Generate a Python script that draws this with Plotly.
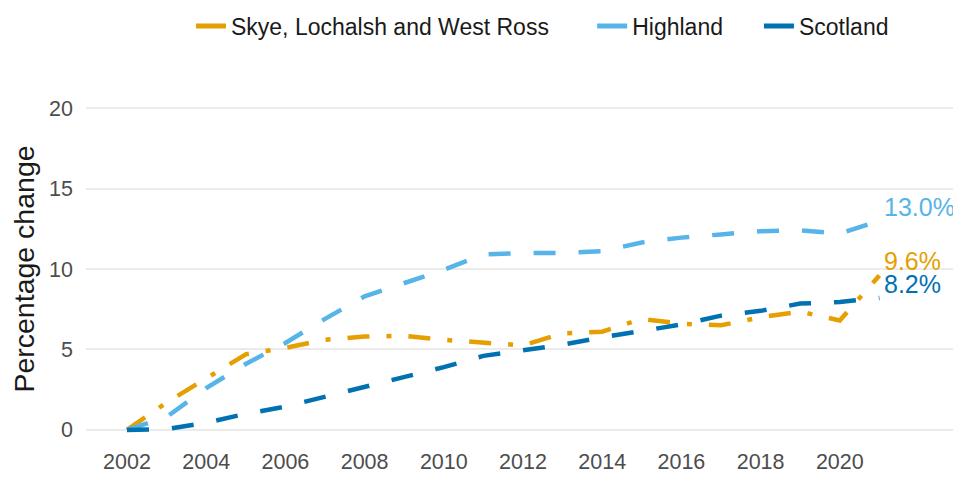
import plotly.graph_objects as go

years = list(range(2002, 2022))
skye = [0, 1.7, 3.2, 4.7, 5.1, 5.6, 5.8, 5.85, 5.6, 5.4, 5.25, 6.0, 6.1, 6.9, 6.6, 6.5, 7.0, 7.35, 6.8, 9.6]
highland = [0, 0.8, 2.6, 4.1, 5.4, 6.9, 8.3, 9.1, 9.95, 10.9, 11.0, 11.0, 11.1, 11.65, 11.95, 12.15, 12.35, 12.4, 12.2, 13.0]
scotland = [0, 0.05, 0.45, 1.0, 1.45, 2.05, 2.7, 3.3, 3.9, 4.6, 4.95, 5.3, 5.75, 6.15, 6.55, 7.1, 7.4, 7.85, 7.95, 8.2]
end_labels = ["9.6%", "13.0%", "8.2%"]

series = [
    ("Skye, Lochalsh and West Ross", skye, "#E69F00", "22px,17px,5px,17px"),
    ("Highland", highland, "#56B4E9", "22px,23px"),
    ("Scotland", scotland, "#0072B2", "22px,23px"),
]
# one legend per series so the entries can be spaced like the original
legend_ids = ["legend", "legend2", "legend3"]
legend_x = [0.192, 0.613, 0.788]

fig = go.Figure()
for name, vals, col, dash in series:
    fig.add_trace(go.Scatter(x=years, y=vals, mode="lines", showlegend=False,
                             line=dict(color=col, width=4.5, dash=dash)))
# solid keys for the legend
for (name, vals, col, dash), lid in zip(series, legend_ids):
    fig.add_trace(go.Scatter(x=[None], y=[None], mode="lines", name=name, legend=lid,
                             line=dict(color=col, width=5)))

for (name, vals, col, dash), lab in zip(series, end_labels):
    fig.add_annotation(x=years[-1], y=vals[-1], text=lab, showarrow=False,
                       xanchor="left", yanchor="middle", xshift=3, yshift=14,
                       font=dict(size=25, color=col))

leg_style = dict(orientation="h", xref="container", xanchor="left",
                 yref="container", y=0.962, yanchor="middle",
                 font=dict(size=23, color="#1a1a1a"), itemwidth=30)

# page body has an 8px margin, so the figure is drawn 8px smaller
fig.update_layout(
    width=953, height=473,
    margin=dict(l=78, r=0, t=84, b=35),
    plot_bgcolor="white", paper_bgcolor="white",
    font=dict(family="Liberation Sans, Arial, sans-serif", color="#4d4d4d"),
    legend=dict(leg_style, x=legend_x[0]),
    legend2=dict(leg_style, x=legend_x[1]),
    legend3=dict(leg_style, x=legend_x[2]),
    xaxis=dict(range=[2000.965, 2023.06], tickvals=list(range(2002, 2021, 2)),
               showgrid=False, zeroline=False, showline=False, ticks="",
               tickfont=dict(size=21.5, color="#4d4d4d")),
    yaxis=dict(range=[-1, 21], tickvals=[0, 5, 10, 15, 20], showgrid=True,
               gridcolor="#ebebeb", gridwidth=2, zeroline=False, ticks="",
               ticklabelstandoff=12,
               tickfont=dict(size=21.5, color="#4d4d4d"),
               title=dict(text="Percentage change", font=dict(size=28.5, color="#1a1a1a"),
                          standoff=12)),
)

fig.write_html("out.html")
